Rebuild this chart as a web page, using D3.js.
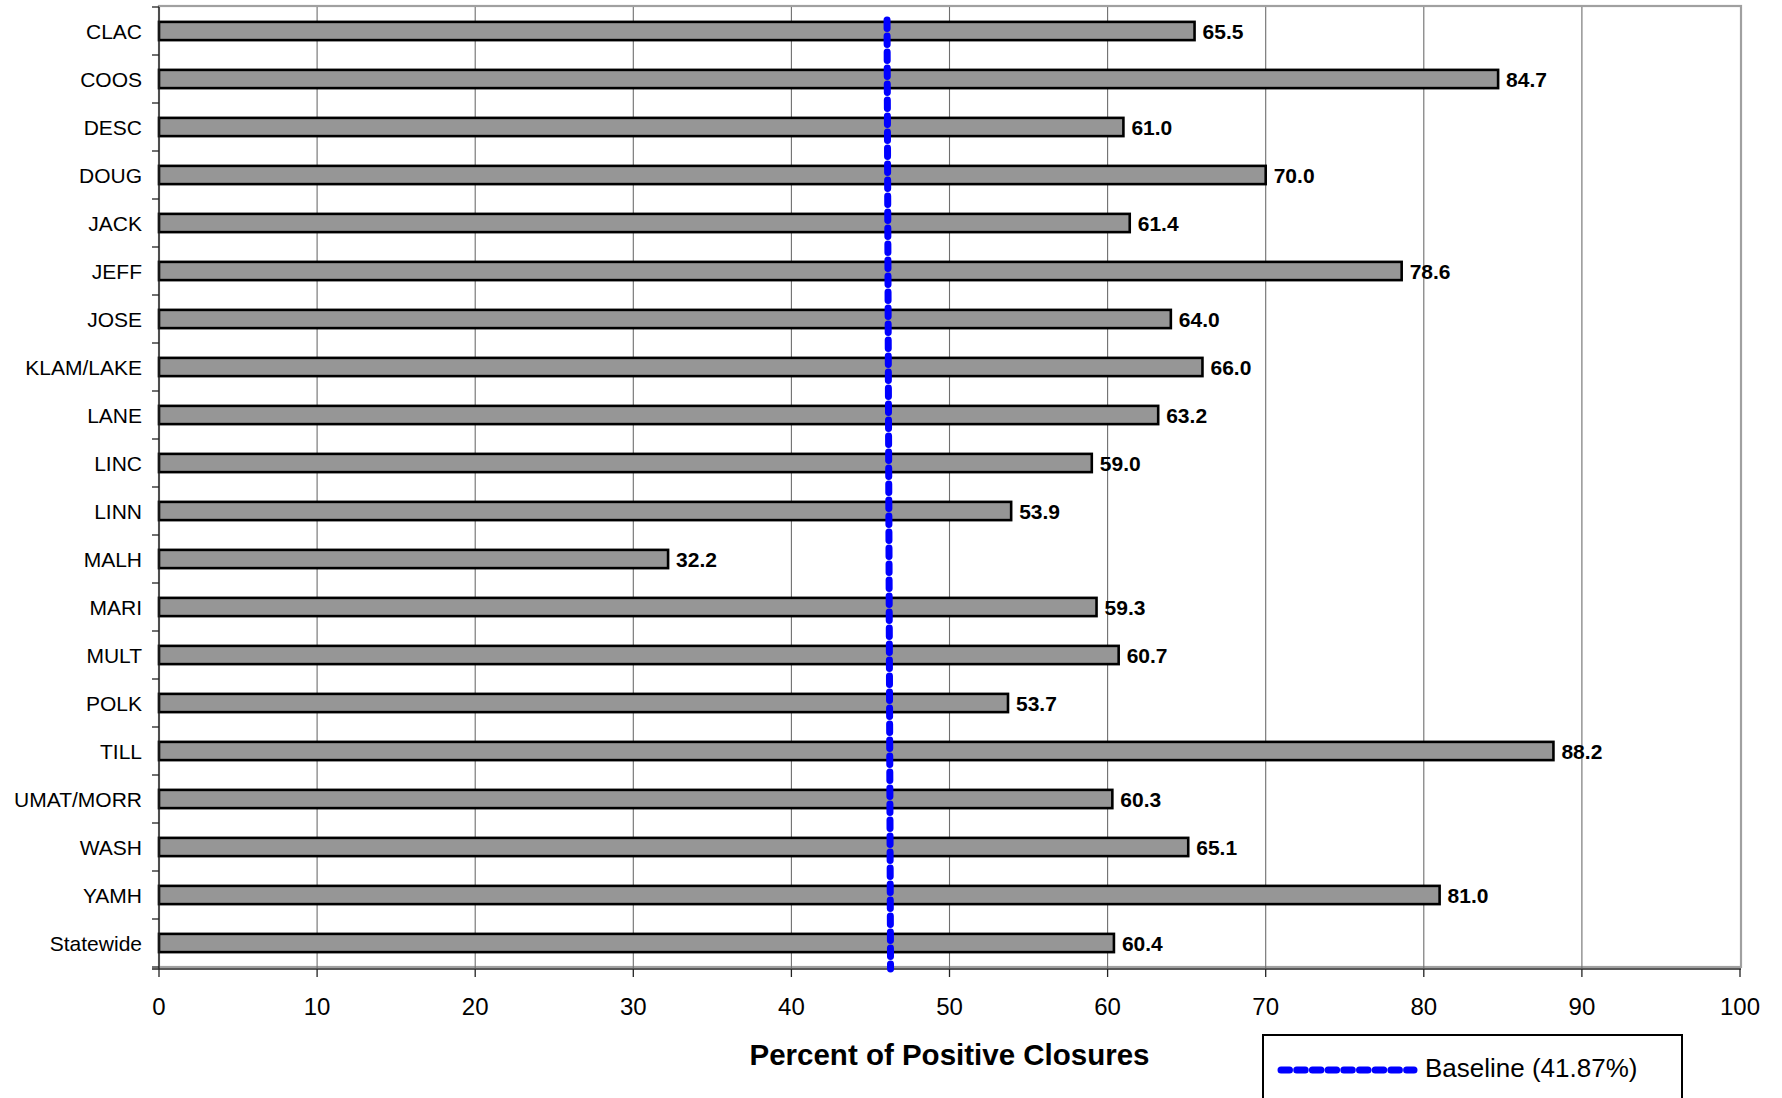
<!DOCTYPE html>
<html>
<head>
<meta charset="utf-8">
<script src="https://cdn.jsdelivr.net/npm/d3@7"></script>
<style>
  html, body { margin: 0; padding: 0; background: #fff; }
  svg { display: block; font-family: "Liberation Sans", Arial, sans-serif; }
</style>
</head>
<body>
<svg id="chart" width="1782" height="1098"></svg>
<script>
const categories = ["CLAC","COOS","DESC","DOUG","JACK","JEFF","JOSE","KLAM/LAKE","LANE","LINC","LINN","MALH","MARI","MULT","POLK","TILL","UMAT/MORR","WASH","YAMH","Statewide"];
const values = [65.5, 84.7, 61.0, 70.0, 61.4, 78.6, 64.0, 66.0, 63.2, 59.0, 53.9, 32.2, 59.3, 60.7, 53.7, 88.2, 60.3, 65.1, 81.0, 60.4];
const xTicks = [0,10,20,30,40,50,60,70,80,90,100];
const baselineX = [46.05, 46.27]; // drawn position, top and bottom
const baselineLabel = "Baseline (41.87%)";
const xTitle = "Percent of Positive Closures";

const svg = d3.select("#chart");
const pLeft = 159, pRight = 1740, pTop = 7, pBottom = 967;

const x = d3.scaleLinear().domain([0, 100]).range([pLeft, pRight]);
const y = d3.scaleBand().domain(categories).range([pTop, pBottom])
  .paddingInner(0.62).paddingOuter(0.31);

// plot area border (gray)
svg.append("rect")
  .attr("x", pLeft).attr("y", pTop - 1)
  .attr("width", pRight - pLeft + 1).attr("height", pBottom - pTop + 1)
  .attr("fill", "none").attr("stroke", "#a0a0a0").attr("stroke-width", 2.2);

// vertical gridlines
svg.append("g").selectAll("line").data(xTicks.slice(1, -1)).join("line")
  .attr("x1", d => x(d)).attr("x2", d => x(d))
  .attr("y1", pTop).attr("y2", pBottom + 1)
  .attr("stroke", "#6e6e6e").attr("stroke-width", 1.1);

// bars
svg.append("g").selectAll("rect").data(values).join("rect")
  .attr("x", x(0))
  .attr("y", (d, i) => y(categories[i]))
  .attr("width", d => x(d) - x(0))
  .attr("height", y.bandwidth())
  .attr("fill", "#969696")
  .attr("stroke", "#000").attr("stroke-width", 2.6);

// value labels
svg.append("g").selectAll("text").data(values).join("text")
  .attr("x", d => x(d) + 8)
  .attr("y", (d, i) => y(categories[i]) + y.bandwidth() / 2)
  .attr("dy", "0.36em")
  .attr("font-size", 21).attr("font-weight", "bold")
  .attr("fill", "#000")
  .text(d => d.toFixed(1));

// axes lines
svg.append("line").attr("x1", pLeft).attr("x2", pLeft).attr("y1", pTop).attr("y2", pBottom + 2)
  .attr("stroke", "#222").attr("stroke-width", 1.3);
svg.append("line").attr("x1", pLeft - 7).attr("x2", pRight + 1).attr("y1", pBottom + 2).attr("y2", pBottom + 2)
  .attr("stroke", "#222").attr("stroke-width", 1.3);

// y ticks at band boundaries
const yBounds = categories.map(c => y(c) - y.step() * y.paddingInner() / 2);
yBounds.push(pBottom);
svg.append("g").selectAll("line").data(yBounds).join("line")
  .attr("x1", pLeft - 7).attr("x2", pLeft)
  .attr("y1", d => d).attr("y2", d => d)
  .attr("stroke", "#222").attr("stroke-width", 1.3);

// category labels
svg.append("g").selectAll("text").data(categories).join("text")
  .attr("x", 142)
  .attr("y", d => y(d) + y.bandwidth() / 2)
  .attr("dy", "0.36em")
  .attr("text-anchor", "end")
  .attr("font-size", 21)
  .attr("fill", "#000")
  .text(d => d);

// x ticks
svg.append("g").selectAll("line").data(xTicks).join("line")
  .attr("x1", d => x(d)).attr("x2", d => x(d))
  .attr("y1", pBottom + 2).attr("y2", pBottom + 10)
  .attr("stroke", "#222").attr("stroke-width", 1.3);
svg.append("g").selectAll("text").data(xTicks).join("text")
  .attr("x", d => x(d))
  .attr("y", 1015)
  .attr("text-anchor", "middle")
  .attr("font-size", 24)
  .attr("fill", "#000")
  .text(d => d);

// x title
svg.append("text")
  .attr("x", (pLeft + pRight) / 2).attr("y", 1065)
  .attr("text-anchor", "middle")
  .attr("font-size", 29.5).attr("font-weight", "bold")
  .attr("fill", "#000")
  .text(xTitle);

// baseline
svg.append("line")
  .attr("x1", x(baselineX[0])).attr("x2", x(baselineX[1]))
  .attr("y1", pTop + 13).attr("y2", pBottom + 2)
  .attr("stroke", "#0000ff").attr("stroke-width", 7)
  .attr("stroke-linecap", "round")
  .attr("stroke-dasharray", "8.5 7.5");

// legend
const lg = svg.append("g");
lg.append("rect").attr("x", 1263).attr("y", 1035).attr("width", 419).attr("height", 120)
  .attr("fill", "#fff").attr("stroke", "#000").attr("stroke-width", 2);
lg.append("line").attr("x1", 1281).attr("x2", 1414).attr("y1", 1070).attr("y2", 1070)
  .attr("stroke", "#0000ff").attr("stroke-width", 7)
  .attr("stroke-linecap", "round")
  .attr("stroke-dasharray", "8.5 7.2");
lg.append("text").attr("x", 1425).attr("y", 1077)
  .attr("font-size", 26).attr("fill", "#000")
  .text(baselineLabel);
</script>
</body>
</html>
